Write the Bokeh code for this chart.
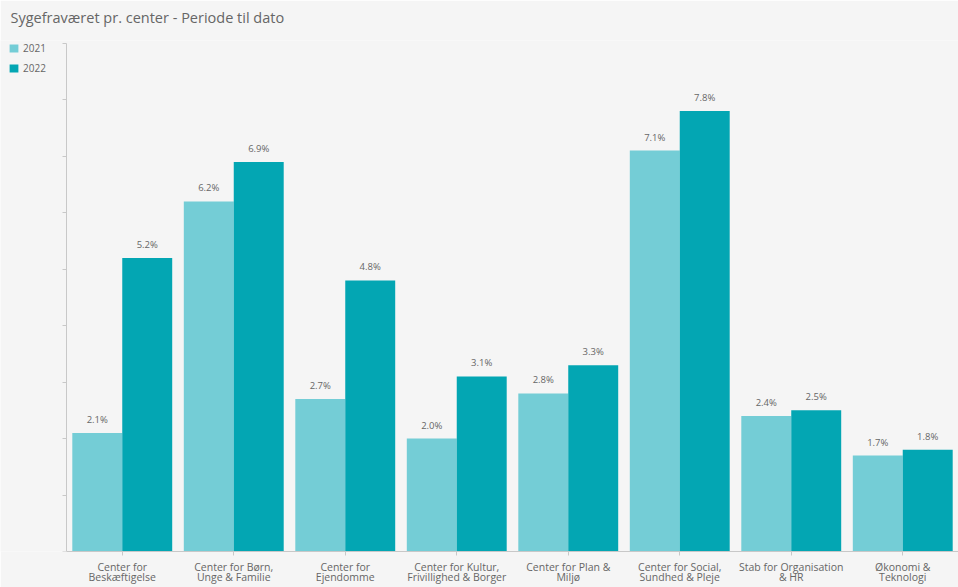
from bokeh.plotting import figure
from bokeh.models import ColumnDataSource, Range1d, FixedTicker, Legend, LegendItem, Title
from bokeh.transform import dodge
from bokeh.core.properties import value
from bokeh.embed import file_html
from bokeh.resources import INLINE

categories = [
    "Center for\nBeskæftigelse",
    "Center for Børn,\nUnge & Familie",
    "Center for\nEjendomme",
    "Center for Kultur,\nFrivillighed & Borger",
    "Center for Plan &\nMiljø",
    "Center for Social,\nSundhed & Pleje",
    "Stab for Organisation\n& HR",
    "Økonomi &\nTeknologi",
]
v2021 = [2.1, 6.2, 2.7, 2.0, 2.8, 7.1, 2.4, 1.7]
v2022 = [5.2, 6.9, 4.8, 3.1, 3.3, 7.8, 2.5, 1.8]
series_names = ["2021", "2022"]
y_ticks = [0, 1, 2, 3, 4, 5, 6, 7, 8, 9]
title_text = "Sygefraværet pr. center - Periode til dato"

c2021 = "#74CDD6"
c2022 = "#03A6B3"
bg = "#F5F5F5"
FONT = "Open Sans"
TXT = "#666666"

n = len(categories)
xs = [i + 0.5 for i in range(n)]

src = ColumnDataSource(dict(
    x=xs,
    a=v2021,
    b=v2022,
    la=[f"{v:.1f}%" for v in v2021],
    lb=[f"{v:.1f}%" for v in v2022],
))

left_pad = 0.592  # room on the left for the legend (in category units)
p = figure(
    width=958, height=587,
    x_range=Range1d(-left_pad, n),
    y_range=Range1d(0, 9.05),
    output_backend="svg", toolbar_location=None,
    min_border_left=0, min_border_right=0, min_border_top=40, min_border_bottom=34,
    background_fill_color=bg, border_fill_color=bg, outline_line_color=None,
)

bw = 0.448
r1 = p.vbar(x=dodge("x", -bw / 2), top="a", width=bw, source=src,
            fill_color=c2021, line_color=None)
r2 = p.vbar(x=dodge("x", bw / 2), top="b", width=bw, source=src,
            fill_color=c2022, line_color=None)

for col, lab, off in (("a", "la", -bw / 2), ("b", "lb", bw / 2)):
    p.text(x=dodge("x", off), y=col, text=lab, source=src,
           text_align="center", text_baseline="bottom", y_offset=-7,
           text_font_size="9.5px", text_color=TXT, text_font=value(FONT))

# spacer between title and plot area, then the title itself (outer)
p.add_layout(Title(text=" ", text_font_size="10px", standoff=1), "above")
p.add_layout(Title(text=title_text, text_font=FONT, text_font_size="14.5px",
                   text_font_style="normal", text_color=TXT, align="left",
                   offset=10, standoff=0, vertical_align="bottom"), "above")

p.xgrid.grid_line_color = None
p.ygrid.grid_line_color = None

ax = p.xaxis[0]
ax.ticker = FixedTicker(ticks=xs)
ax.major_label_overrides = {x: c for x, c in zip(xs, categories)}
ax.bounds = (0, n)
ax.axis_line_color = "#C8C8C8"
ax.major_tick_line_color = "#C8C8C8"
ax.minor_tick_line_color = None
ax.major_tick_out = 4
ax.major_tick_in = 0
ax.major_label_standoff = 4
ax.major_label_text_font = FONT
ax.major_label_text_font_size = "10.5px"
ax.major_label_text_color = TXT
ax.major_label_text_line_height = 0.77

ay = p.yaxis[0]
ay.ticker = FixedTicker(ticks=y_ticks)
ay.fixed_location = 0
ay.bounds = (0, 9)
ay.axis_line_color = "#C8C8C8"
ay.major_tick_line_color = "#C8C8C8"
ay.minor_tick_line_color = None
ay.major_tick_out = 4
ay.major_tick_in = 0
ay.major_label_text_color = None
ay.major_label_text_font_size = "0px"
ay.major_label_standoff = 0

legend = Legend(
    items=[LegendItem(label=series_names[0], renderers=[r1]),
           LegendItem(label=series_names[1], renderers=[r2])],
    location=(8, 476),
    glyph_width=11, glyph_height=10, label_height=10,
    spacing=6, padding=0, margin=0, label_standoff=4,
    label_text_font=FONT, label_text_font_size="10px", label_text_color=TXT,
    background_fill_alpha=0, border_line_color=None,
)
p.add_layout(legend)

open("out.html", "w").write(file_html(p, INLINE))
